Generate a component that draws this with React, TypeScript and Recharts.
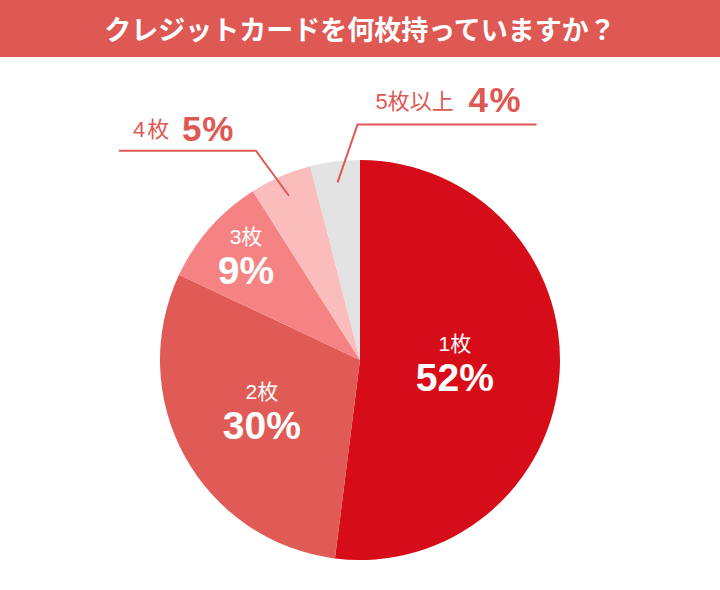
import React from 'react';
import { PieChart, Pie, Cell } from 'recharts';

const TITLE = 'クレジットカードを何枚持っていますか？';
const categories = ['1枚', '2枚', '3枚', '4枚', '5枚以上'];
const values = [52, 30, 9, 5, 4];
const colors = ['#d70c19', '#e05b55', '#f58383', '#fbbcbc', '#e3e3e3'];

const data = categories.map((name, i) => ({ name, value: values[i] }));

const FONT = "'Liberation Sans', Arial, 'Noto Sans CJK JP', sans-serif";
const RED = '#de5953';
const RAD = Math.PI / 180;

// inside label radius (fraction of outer radius) for the large slices
const INSIDE_R = [0.475, 0.56, 0.76];

const polar = (cx: number, cy: number, r: number, angle: number) => ({
  x: cx + r * Math.cos(-angle * RAD),
  y: cy + r * Math.sin(-angle * RAD),
});

const renderLabel = (props: any) => {
  const { cx, cy, midAngle, outerRadius, index, name, value } = props;
  if (index < 3) {
    const p = polar(cx, cy, outerRadius * INSIDE_R[index], midAngle);
    return (
      <g key={`lbl-${index}`}>
        <text x={p.x} y={p.y - 15} textAnchor="middle" fill="#fff" fontSize={21} fontFamily={FONT}>
          {name}
        </text>
        <text x={p.x} y={p.y + 25} textAnchor="middle" fill="#fff" fontSize={39} fontWeight="bold" fontFamily={FONT}>
          {`${value}%`}
        </text>
      </g>
    );
  }
  const inner = polar(cx, cy, outerRadius * 0.895, midAngle);
  if (index === 3) {
    const ex = inner.x - 33;
    const ey = inner.y - 45;
    return (
      <g key={`lbl-${index}`}>
        <polyline points={`${inner.x},${inner.y} ${ex},${ey} ${ex - 137},${ey}`} fill="none" stroke={RED} strokeWidth={2} />
        <text x={ex - 123} y={ey - 14} fill={RED} fontSize={22} fontFamily={FONT} letterSpacing={2}>
          {name}
        </text>
        <text x={ex - 74} y={ey - 10} fill={RED} fontSize={35} fontWeight="bold" fontFamily={FONT} letterSpacing={1}>
          {`${value}%`}
        </text>
      </g>
    );
  }
  const ex = inner.x + 20;
  const ey = inner.y - 58;
  return (
    <g key={`lbl-${index}`}>
      <polyline points={`${inner.x},${inner.y} ${ex},${ey} ${ex + 179},${ey}`} fill="none" stroke={RED} strokeWidth={2} />
      <text x={ex + 18} y={ey - 15} fill={RED} fontSize={22} fontFamily={FONT}>
        {name}
      </text>
      <text x={ex + 111} y={ey - 12} fill={RED} fontSize={35} fontWeight="bold" fontFamily={FONT} letterSpacing={1.5}>
        {`${value}%`}
      </text>
    </g>
  );
};

export default function App() {
  return (
    <div style={{ position: 'absolute', left: 0, top: 0, width: 720, height: 590, background: '#fff' }}>
      <PieChart width={720} height={590} margin={{ top: 0, right: 0, bottom: 0, left: 0 }}>
        <Pie
          data={data}
          dataKey="value"
          nameKey="name"
          cx={360}
          cy={360}
          outerRadius={200}
          startAngle={90}
          endAngle={-270}
          stroke="none"
          label={renderLabel}
          labelLine={false}
          isAnimationActive={false}
        >
          {data.map((d, i) => (
            <Cell key={d.name} fill={colors[i]} />
          ))}
        </Pie>
      </PieChart>
      <div
        style={{
          position: 'absolute',
          left: 0,
          top: 0,
          width: 720,
          height: 57,
          background: RED,
          color: '#fff',
          fontFamily: "'Noto Sans CJK JP', sans-serif",
          fontWeight: 'bold',
          fontSize: 27,
          lineHeight: '57px',
          textAlign: 'center',
        }}
      >
        {TITLE}
      </div>
    </div>
  );
}
